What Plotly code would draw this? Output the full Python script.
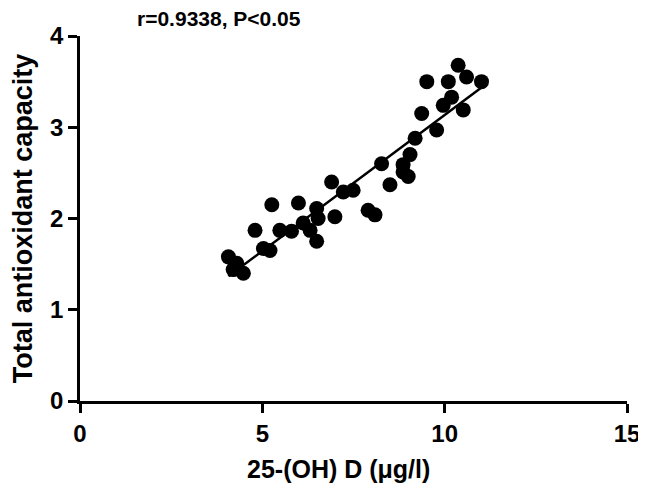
import numpy as np
import plotly.graph_objects as go

# 25-(OH) D (ug/l) vs total antioxidant capacity
vit_d = [10.37, 9.51, 10.10, 10.60, 11.01, 10.19, 9.96, 10.51, 9.37, 9.78,
         9.19, 9.05, 8.86, 8.86, 9.00, 8.50, 8.27, 6.90, 7.22, 7.49,
         7.90, 8.09, 5.26, 5.99, 6.49, 6.99, 6.53, 4.80, 5.48, 5.80,
         6.12, 6.31, 6.49, 5.03, 5.21, 4.07, 4.30, 4.48, 4.20]
tac = [3.68, 3.50, 3.50, 3.55, 3.50, 3.33, 3.24, 3.19, 3.15, 2.97,
       2.88, 2.70, 2.59, 2.51, 2.46, 2.37, 2.60, 2.40, 2.29, 2.31,
       2.09, 2.04, 2.15, 2.17, 2.11, 2.02, 2.00, 1.87, 1.87, 1.86,
       1.95, 1.87, 1.75, 1.67, 1.65, 1.58, 1.51, 1.40, 1.44]
x_ticks = [0, 5, 10, 15]
y_ticks = [0, 1, 2, 3, 4]

FONT = "Liberation Sans, Arial, sans-serif"

# linear fit over the data range
slope, intercept = np.polyfit(vit_d, tac, 1)
fit_x = np.array([min(vit_d), max(vit_d)])
fit_y = slope * fit_x + intercept

fig = go.Figure()

fig.add_trace(go.Scatter(
    x=fit_x, y=fit_y, mode="lines",
    line=dict(color="black", width=2.5),
    hoverinfo="skip", showlegend=False,
))

fig.add_trace(go.Scatter(
    x=vit_d, y=tac, mode="markers",
    marker=dict(color="black", size=15, symbol="circle", line=dict(width=0)),
    showlegend=False,
))

fig.add_annotation(
    x=0.255, y=1, xref="paper", yref="paper", xanchor="center", yanchor="bottom",
    yshift=4, text="r=0.9338, P<0.05", showarrow=False,
    font=dict(family=FONT, size=21, color="black", weight="bold"),
)

# x title sits a little left of centre in the original
fig.add_annotation(
    x=0.472, y=0, xref="paper", yref="paper", xanchor="center", yanchor="middle",
    yshift=-68, text="25-(OH) D (μg/l)", showarrow=False,
    font=dict(family=FONT, size=25, color="black", weight="bold"),
)

axis_common = dict(
    showline=True, linecolor="black", linewidth=2.5,
    ticks="outside", ticklen=9, tickwidth=2.5, tickcolor="black",
    showgrid=False, zeroline=False, automargin=False,
    tickfont=dict(family=FONT, size=24, color="black", weight="bold"),
)

# page body has an 8px margin, so the figure is 8px smaller than the window
fig.update_layout(
    width=638, height=484,
    paper_bgcolor="white", plot_bgcolor="white",
    margin=dict(l=72, r=19, t=28, b=91),
    xaxis=dict(range=[0, 15], tickvals=x_ticks, **axis_common),
    yaxis=dict(
        range=[0, 4], tickvals=y_ticks,
        title=dict(text="Total antioxidant capacity", standoff=10,
                   font=dict(family=FONT, size=27, color="black", weight="bold")),
        **axis_common,
    ),
)

fig.write_html("out.html")
